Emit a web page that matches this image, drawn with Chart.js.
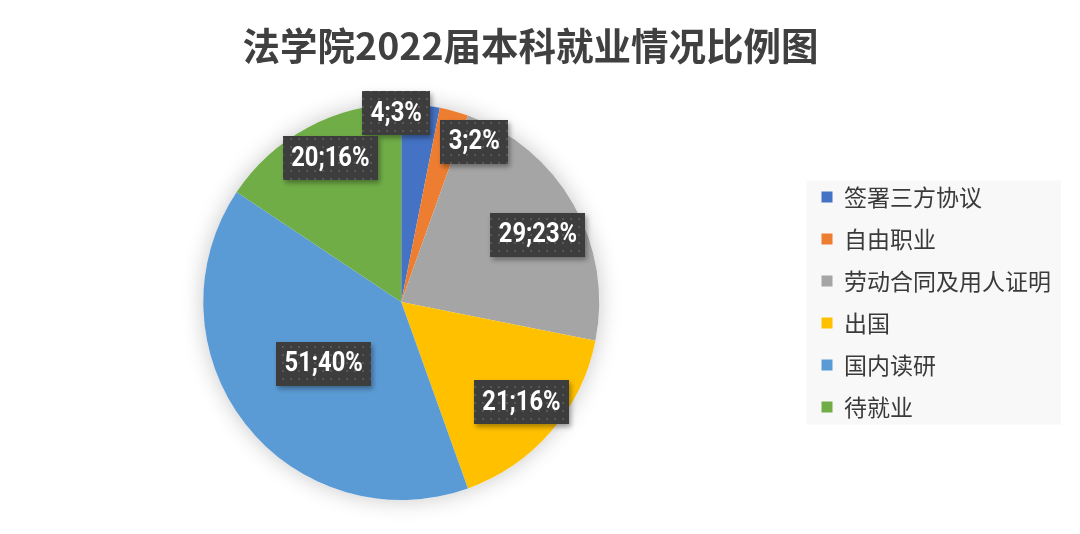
<!DOCTYPE html>
<html>
<head>
<meta charset="utf-8">
<script src="https://cdn.jsdelivr.net/npm/chart.js@4"></script>
<style>
  html, body { margin: 0; padding: 0; background: #fff; }
  #wrap { width: 1080px; height: 534px; }
</style>
</head>
<body>
<div id="wrap"><canvas id="pie" width="1080" height="534"></canvas></div>
<script>
const titleText = '法学院2022届本科就业情况比例图';
const categories = ['签署三方协议', '自由职业', '劳动合同及用人证明', '出国', '国内读研', '待就业'];
const counts = [4, 3, 29, 21, 51, 20];
const sliceColors = ['#4472C4', '#ED7D31', '#A5A5A5', '#FFC000', '#5B9BD5', '#70AD47'];

const CJK = '"Noto Sans CJK SC", "Noto Sans", sans-serif';

// dotted dark fill used behind the data labels
function makeDotPattern(ctx) {
  const c = document.createElement('canvas');
  c.width = 8; c.height = 8;
  const p = c.getContext('2d');
  p.fillStyle = '#3d3d3d';
  p.fillRect(0, 0, 8, 8);
  p.fillStyle = '#585858';
  p.fillRect(2, 2, 2, 2);
  return ctx.createPattern(c, 'repeat');
}

const pieShadow = {
  id: 'pieShadow',
  beforeDatasetsDraw(chart) {
    const arc = chart.getDatasetMeta(0).data[0];
    if (!arc) return;
    const ctx = chart.ctx;
    ctx.save();
    ctx.shadowColor = 'rgba(0,0,0,0.22)';
    ctx.shadowBlur = 22;
    ctx.fillStyle = '#ffffff';
    ctx.beginPath();
    ctx.arc(arc.x, arc.y, arc.outerRadius, 0, Math.PI * 2);
    ctx.fill();
    ctx.restore();
  },
};

const legendBackground = {
  id: 'legendBackground',
  beforeDraw(chart) {
    const lg = chart.legend;
    if (!lg || !lg.columnSizes || !lg.columnSizes.length) return;
    const pad = lg.options.labels.padding;
    const colH = lg.columnSizes[0].height;
    const y0 = (lg.top + pad + lg.bottom - colH) / 2;
    const ctx = chart.ctx;
    ctx.save();
    ctx.fillStyle = '#f8f8f8';
    ctx.fillRect(lg.left + pad - 15, y0 - 5, lg.right - (lg.left + pad - 15), colH - pad + 11);
    ctx.restore();
  },
};

const boxLabels = {
  id: 'boxLabels',
  afterDatasetsDraw(chart, args, opts) {
    const ctx = chart.ctx;
    const meta = chart.getDatasetMeta(0);
    const data = chart.data.datasets[0].data;
    const total = data.reduce((a, b) => a + b, 0);
    const pattern = makeDotPattern(ctx);
    ctx.save();
    ctx.font = opts.font;
    ctx.textAlign = 'center';
    ctx.textBaseline = 'middle';
    meta.data.forEach((arc, i) => {
      const mid = (arc.startAngle + arc.endAngle) / 2 + (opts.angleShift[i] || 0) * Math.PI / 180;
      const r = arc.outerRadius * opts.radius[i];
      const x = arc.x + Math.cos(mid) * r;
      const y = arc.y + Math.sin(mid) * r;
      const text = data[i] + ';' + Math.round(data[i] / total * 100) + '%';
      const w = ctx.measureText(text).width * opts.squeeze + 17;
      const h = 44;
      ctx.save();
      ctx.shadowColor = 'rgba(0,0,0,0.35)';
      ctx.shadowBlur = 5;
      ctx.shadowOffsetX = 2;
      ctx.shadowOffsetY = 3;
      ctx.fillStyle = pattern;
      ctx.fillRect(Math.round(x - w / 2), Math.round(y - h / 2), Math.round(w), h);
      ctx.restore();
      ctx.save();
      ctx.translate(x, y + 1);
      ctx.scale(opts.squeeze, 1);
      ctx.fillStyle = '#ffffff';
      ctx.fillText(text, 0, 0);
      ctx.restore();
    });
    ctx.restore();
  },
};

new Chart(document.getElementById('pie'), {
  type: 'pie',
  data: {
    labels: categories,
    datasets: [{
      data: counts,
      backgroundColor: sliceColors,
      borderWidth: 0,
      hoverOffset: 0,
    }],
  },
  options: {
    responsive: false,
    animation: false,
    layout: { padding: { left: 0, right: 19, top: 0, bottom: 34 } },
    plugins: {
      title: {
        display: true,
        text: titleText,
        color: '#404040',
        font: { family: CJK, size: 37.5, weight: 'bold' },
        padding: { top: 23, bottom: 36 },
      },
      legend: {
        position: 'right',
        fullSize: false,
        labels: {
          color: '#3a3a3a',
          font: { family: CJK, size: 23 },
          boxWidth: 11,
          boxHeight: 11,
          padding: 19,
        },
      },
      tooltip: { enabled: false },
      boxLabels: {
        font: 'bold 27px Roboto, "Liberation Sans", sans-serif',
        squeeze: 0.88,
        radius: [0.955, 0.89, 0.77, 0.79, 0.5, 0.81],
        angleShift: [-7.1, 9, 3.3, -1, -0.5, 1.9],
      },
    },
  },
  plugins: [pieShadow, legendBackground, boxLabels],
});
</script>
</body>
</html>
